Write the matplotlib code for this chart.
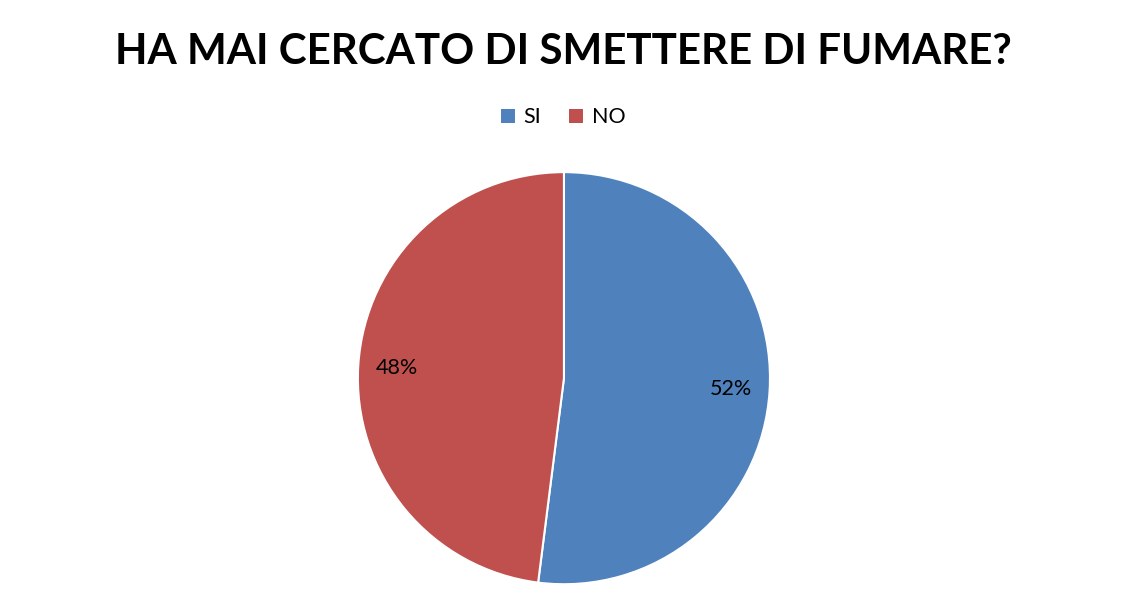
import matplotlib.pyplot as plt
from matplotlib.patches import Patch

labels = ['SI', 'NO']
values = [52, 48]
colors = ['#4F81BD', '#C0504D']

plt.rcParams['font.family'] = ['Lato', 'DejaVu Sans']

fig = plt.figure(figsize=(11.29, 6.08), dpi=100)
fig.text(0.4987, 0.914, 'HA MAI CERCATO DI SMETTERE DI FUMARE?', ha='center', va='center',
         fontsize=30.3, fontweight='bold')

ax = fig.add_axes([0.317, 0.039, 0.365, 0.678])
wedges, texts, autotexts = ax.pie(values, colors=colors, startangle=90, counterclock=False,
                                  autopct='%1.0f%%', pctdistance=0.81,
                                  wedgeprops=dict(edgecolor='white', linewidth=1.5),
                                  textprops=dict(fontsize=15.5, color='black'))
ax.set_xlim(-1.0, 1.0)
ax.set_ylim(-1.0, 1.0)
ax.set_aspect('equal')

handles = [Patch(facecolor=c, label=l) for c, l in zip(colors, labels)]
fig.legend(handles=handles, loc='center', bbox_to_anchor=(0.4987, 0.807), ncol=2, frameon=False,
           fontsize=15.5, handlelength=0.65, handleheight=0.65, handletextpad=0.4, columnspacing=1.3)

fig.savefig('out.png', dpi=100)
